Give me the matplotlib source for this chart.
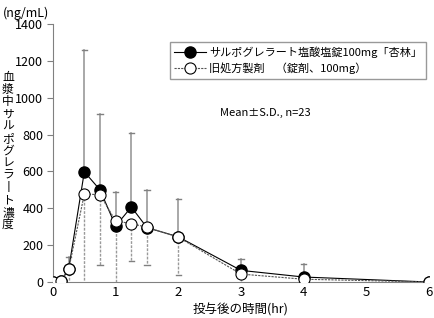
import numpy as np
import matplotlib
matplotlib.use('Agg')
import matplotlib.pyplot as plt
from matplotlib.lines import Line2D

plt.rcParams['font.family'] = ['Noto Sans CJK JP', 'DejaVu Sans']

# データ
time_hr = [0, 0.125, 0.25, 0.5, 0.75, 1.0, 1.25, 1.5, 2, 3, 4, 6]
mean_new = [0, 5, 70, 598, 500, 304, 407, 295, 245, 63, 27, 0]
sd_new = [0, 0, 63, 662, 410, 186, 403, 204, 204, 63, 72, 0]
mean_old = [0, 5, 68, 477, 474, 331, 317, 297, 243, 43, 15, 0]
sd_old = [0, 0, 80, 520, 384, 350, 204, 207, 207, 50, 20, 0]

label_new = 'サルポグレラート塩酸塩錠100mg「杏林」'
label_old = '旧処方製剤　（錠剤、100mg）'
ylabel_chars = '血漿中サルポグレラート濃度'

fig = plt.figure(figsize=(4.34, 3.18), dpi=100)
ax = fig.add_axes([53 / 434, 1 - 282 / 318, 376 / 434, 258 / 318])

t = np.array(time_hr)
mn, sn = np.array(mean_new), np.array(sd_new)
mo, so = np.array(mean_old), np.array(sd_old)

# 誤差棒（上：新製剤 +SD, 下：旧製剤 -SD）
cap = 0.045
for i in range(len(t)):
    if sn[i] > 0:
        top = mn[i] + sn[i]
        ax.plot([t[i], t[i]], [mn[i], top], color='#9a9a9a', lw=1.2, zorder=1)
        ax.plot([t[i] - cap, t[i] + cap], [top, top], color='#808080', lw=1.0, zorder=1)
    if so[i] > 0:
        bot = max(mo[i] - so[i], 0)
        ax.plot([t[i], t[i]], [mo[i], bot], color='#9a9a9a', lw=1.0,
                linestyle=(0, (2, 1)), zorder=1)
        if bot > 0:
            ax.plot([t[i] - cap, t[i] + cap], [bot, bot], color='#808080', lw=1.0, zorder=1)

ax.plot(t, mo, color='#555555', lw=0.8, linestyle=(0, (2, 1)), marker='o', ms=8,
        mfc='white', mec='black', mew=0.8, zorder=3)
ax.plot(t, mn, color='black', lw=0.8, marker='o', ms=8, mfc='black', mec='black', zorder=2)

ax.set_xlim(0, 6)
ax.set_ylim(0, 1400)
ax.set_xticks(range(0, 7))
ax.set_yticks(range(0, 1401, 200))
ax.tick_params(axis='y', direction='out', length=4, color='#808080', labelsize=9, pad=3)
ax.tick_params(axis='x', length=0, labelsize=9.5, pad=3)
for s in ['top', 'right']:
    ax.spines[s].set_visible(False)
for s in ['left', 'bottom']:
    ax.spines[s].set_color('#808080')
ax.patch.set_visible(False)

fig.text(240 / 434, 1 - 310 / 318, '投与後の時間(hr)', fontsize=9, ha='center', va='center')
fig.text(3 / 434, 1 - 13 / 318, '(ng/mL)', fontsize=9, va='center', ha='left')

# 縦書きラベル（長音は縦棒で表示）
y0, step = 77, 12.3
for k, ch in enumerate(ylabel_chars.replace('ー', '丨')):
    fig.text(8 / 434, 1 - (y0 + k * step) / 318, ch, fontsize=8.5, ha='center', va='center')

handles = [
    Line2D([], [], color='black', lw=0.8, marker='o', ms=8, mfc='black'),
    Line2D([], [], color='#555555', lw=0.8, linestyle=(0, (2, 1)), marker='o', ms=8,
           mfc='white', mec='black', mew=0.8),
]
leg = ax.legend(handles, [label_new, label_old], loc='upper left',
                bbox_to_anchor=(170 / 434, 1 - 42 / 318), bbox_transform=fig.transFigure,
                fontsize=8, frameon=True, fancybox=False, edgecolor='#808080',
                handlelength=2.8, handletextpad=0.3, borderpad=0.4, labelspacing=0.4,
                borderaxespad=0)
leg.get_frame().set_linewidth(1.0)
fig.text(220 / 434, 1 - 113 / 318, 'Mean±S.D., n=23', fontsize=8, va='center', ha='left')

fig.savefig('out.png', dpi=100)
